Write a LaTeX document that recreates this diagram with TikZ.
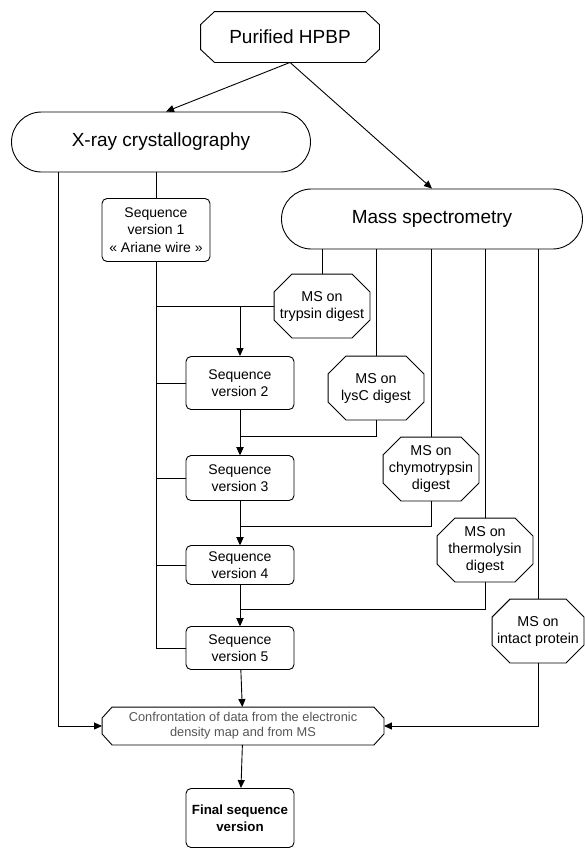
\documentclass[tikz,border=0pt]{standalone}
\usepackage{fontspec}
\setmainfont{Liberation Sans}
\usetikzlibrary{shapes.misc,arrows.meta}
\definecolor{confgray}{HTML}{555555}
\tikzset{
  octbox/.style={rectangle,inner sep=0pt,align=center},
  pillbox/.style={draw,rounded rectangle,inner sep=0pt,
    font=\fontsize{19}{22}\selectfont},
  seqbox/.style={draw,rounded corners=5pt,inner sep=0pt,minimum width=108pt,
    align=center,font=\fontsize{14}{17.5}\selectfont},
  msbox/.style={octbox,minimum width=95pt,minimum height=63pt,
    font=\fontsize{14.3}{17}\selectfont},
  arr/.style={-{Triangle[length=8pt,width=7pt]}}
}
% octagon frame round a node: name, x cut, y cut
\newcommand\octframe[3]{%
  \draw ([xshift=#2]#1.north west) -- ([xshift=-#2]#1.north east)
    -- ([yshift=-#3]#1.north east) -- ([yshift=#3]#1.south east)
    -- ([xshift=-#2]#1.south east) -- ([xshift=#2]#1.south west)
    -- ([yshift=#3]#1.south west) -- ([yshift=-#3]#1.north west) -- cycle;}

\begin{document}
\begin{tikzpicture}[x=1pt,y=-1pt,line width=0.9pt]
\useasboundingbox (0,0) rectangle (585,849);
\node[octbox,minimum width=178pt,minimum height=50pt,
  font=\fontsize{19}{22}\selectfont] (hpbp) at (290,37) {Purified HPBP};
\node[pillbox,minimum width=299pt,minimum height=60pt] (xray) at (161,142) {X-ray crystallography};
\node[pillbox,minimum width=301pt,minimum height=60pt] (ms) at (432,219) {Mass spectrometry};
% sequence versions
\node[seqbox,minimum height=63pt] (seq1) at (156,230) {Sequence\\version 1\\« Ariane wire »};
\node[seqbox,minimum height=53pt] (seq2) at (240,383) {Sequence\\version 2};
\node[seqbox,minimum height=45pt] (seq3) at (240,478) {Sequence\\version 3};
\node[seqbox,minimum height=39pt] (seq4) at (240,565) {Sequence\\version 4};
\node[seqbox,minimum height=43pt] (seq5) at (240,648) {Sequence\\version 5};
% MS experiments
\node[msbox] (tryp) at (322,306) {MS on\\trypsin digest};
\node[msbox] (lysc) at (376,388) {MS on\\lysC digest};
\node[msbox] (chymo) at (431,469) {MS on\\chymotrypsin\\digest};
\node[msbox] (thermo) at (485,550) {MS on\\thermolysin\\digest};
\node[msbox,minimum width=91pt] (intact) at (538,631) {MS on\\intact protein};
\node[octbox,minimum width=281pt,minimum height=37pt,text=confgray,
  font=\fontsize{12.8}{15}\selectfont] (conf) at (243,726)
  {Confrontation of data from the electronic\\density map and from MS};
\node[seqbox,minimum height=59pt,font=\fontsize{13.3}{17}\selectfont\bfseries] (final) at (240,818) {Final sequence\\version};

\octframe{hpbp}{14pt}{13pt}
\foreach \m in {tryp,lysc,chymo,thermo,intact} {\octframe{\m}{18pt}{18pt}}
\octframe{conf}{10pt}{11pt}

\draw[arr] (hpbp.south) -- ([xshift=5pt]xray.north);
\draw[arr] (hpbp.south) -- (ms.north);
\draw (seq1.north |- xray.south) -- (seq1.north);
\draw[arr] ([xshift=-103pt]xray.south) |- (conf.west);
% left bus
\draw (seq1.south) |- (seq5.west);
\foreach \s in {seq2,seq3,seq4} \draw (seq1.south |- \s.west) -- (\s.west);
\draw (seq1.south |- tryp.west) -- (tryp.west);
\draw[arr] (seq2.north |- tryp.west) -- (seq2.north);
% MS bus
\foreach \m in {tryp,lysc,chymo,thermo,intact} \draw (\m.north |- ms.south) -- (\m.north);
\draw[arr] (seq2) -- (seq3);
\draw[arr] (seq3) -- (seq4);
\draw[arr] (seq4) -- (seq5);
\draw[arr] (lysc.south) |- ([yshift=19pt]seq3.north) -- (seq3.north);
\draw[arr] (chymo.south) |- ([yshift=19pt]seq4.north) -- (seq4.north);
\draw[arr] (thermo.south) |- ([yshift=17pt]seq5.north) -- (seq5.north);
\draw[arr] (intact.south) |- (conf.east);
\draw[arr] (seq5) -- (conf);
\draw[arr] (conf) -- (final);
\end{tikzpicture}
\end{document}
